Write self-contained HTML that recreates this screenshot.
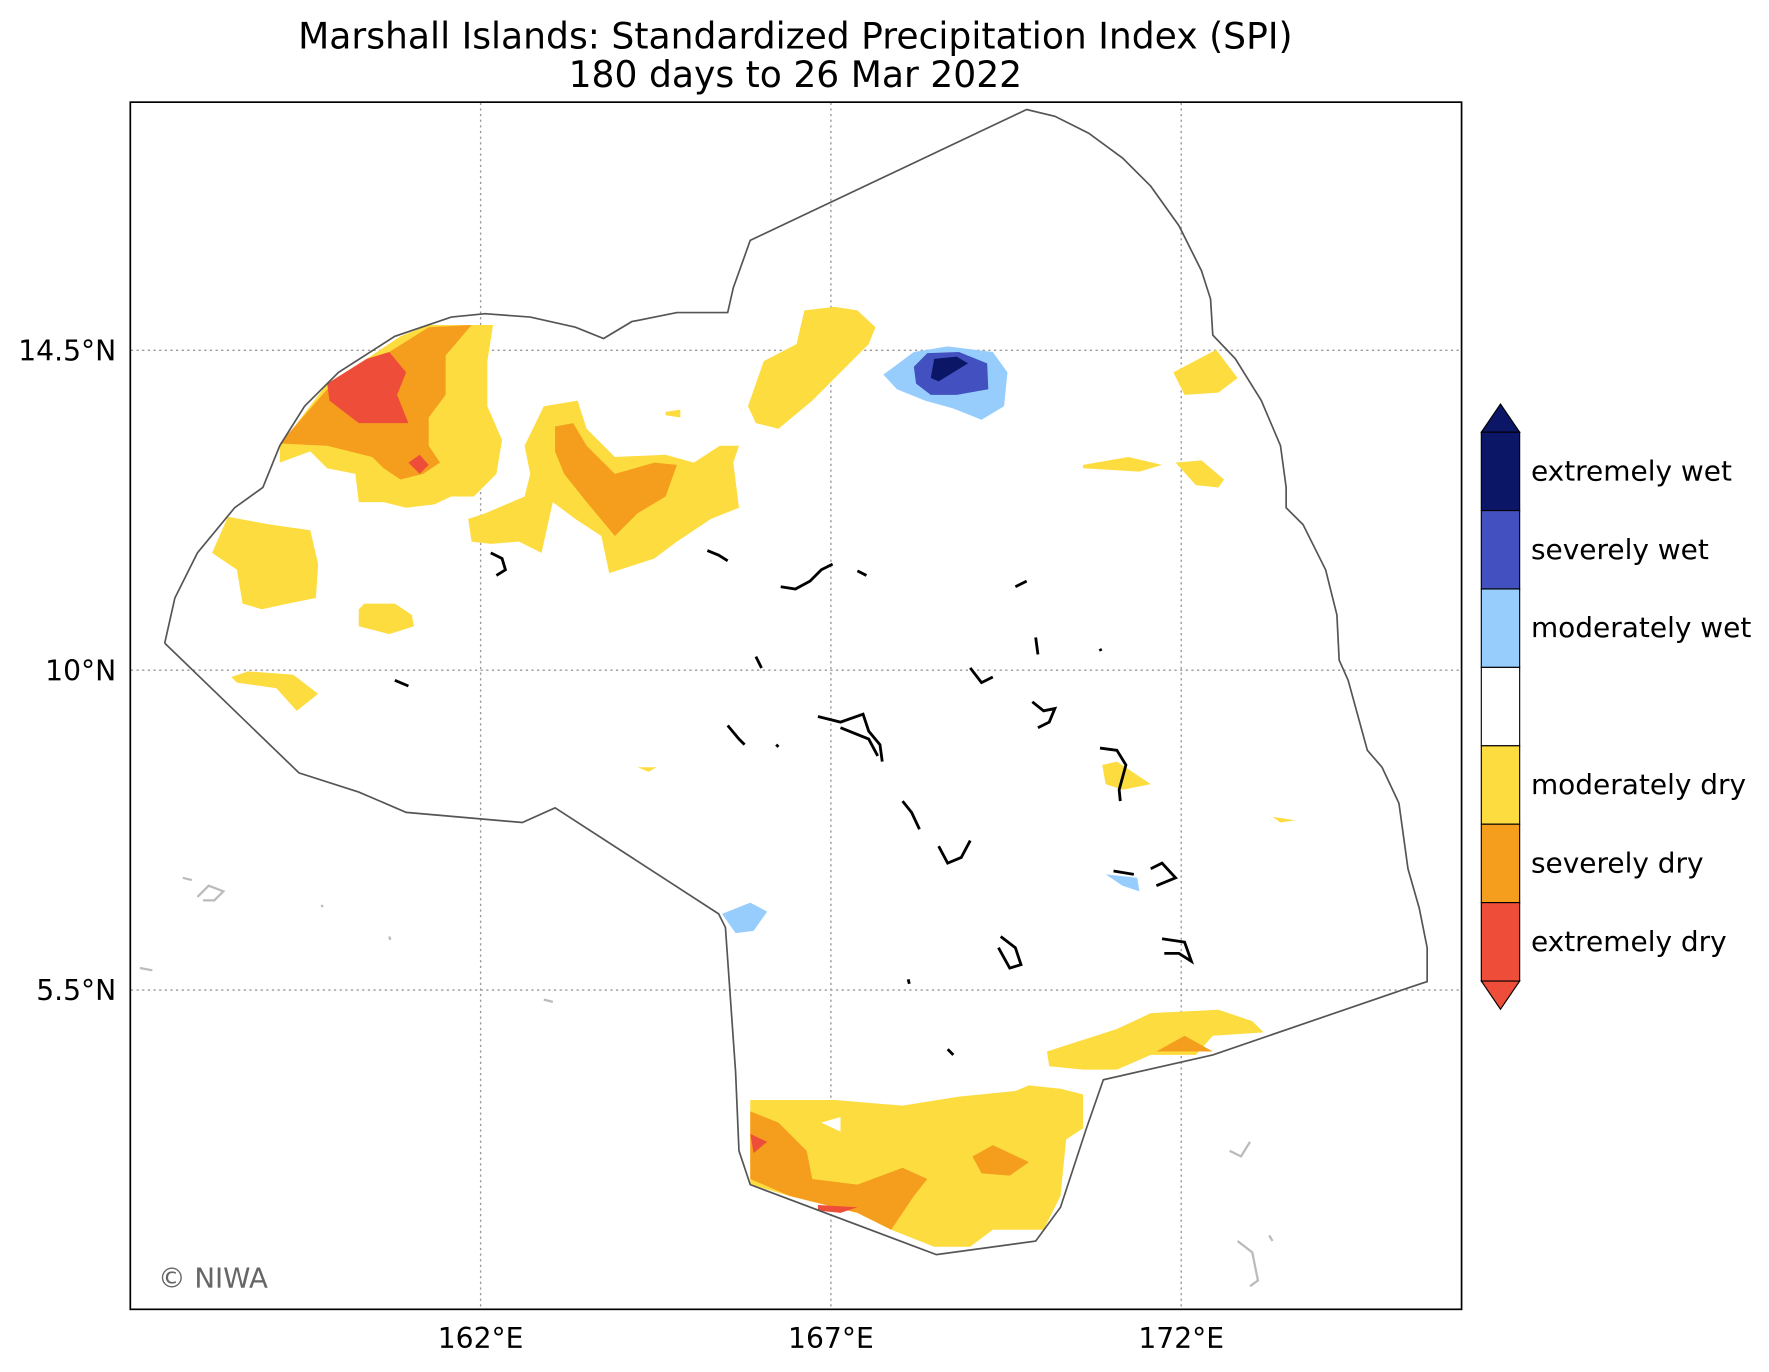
<!DOCTYPE html>
<html><head><meta charset="utf-8"><style>
html,body{margin:0;padding:0;background:#fff}
svg{display:block;font-family:"DejaVu Sans","Liberation Sans",sans-serif}
</style></head><body>
<svg id="c" width="1769" height="1372" viewBox="0 0 1568 1216" xmlns="http://www.w3.org/2000/svg">
<rect width="1568" height="1216" fill="#fff"/>
<text x="705" y="43" font-size="32" text-anchor="middle">Marshall Islands: Standardized Precipitation Index (SPI)</text>
<text x="705" y="77" font-size="32" text-anchor="middle">180 days to 26 Mar 2022</text>
<g id="grid"></g>
<g id="shapes"></g>
<g id="islands"></g>
<rect x="115.5" y="90.5" width="1180" height="1070" fill="none" stroke="#000" stroke-width="1.5"/>
<g id="ticks"></g>
<text x="140" y="1141" font-size="24.5" fill="#666">© NIWA</text>
<g id="cbar"></g>
</svg>
<script>
const lonTicks=[162,167,172];
const lonLabels=["162°E","167°E","172°E"];
const latTicks=[14.5,10,5.5];
const latLabels=["14.5°N","10°N","5.5°N"];
const cbarLabels=["extremely wet","severely wet","moderately wet","","moderately dry","severely dry","extremely dry"];
const cbarColors=["#0b1666","#4251bf","#97cdfc","#ffffff","#fddc3f","#f59e1e","#ee4e39"];
function xOf(lon){return 426+(lon-162)*62.1;}
function yOf(lat){return 594-(lat-10)*63.0;}
const NS="http://www.w3.org/2000/svg";
function mk(tag,attrs,parent){const e=document.createElementNS(NS,tag);for(const k in attrs)e.setAttribute(k,attrs[k]);parent.appendChild(e);return e;}
const grid=document.getElementById('grid'),ticks=document.getElementById('ticks');
lonTicks.forEach((l,i)=>{const x=xOf(l);
 const g=mk('line',{x1:x,x2:x,y1:91,y2:1160,stroke:"#999","stroke-width":1.2,"stroke-dasharray":"2,3"},grid);
 
 const t=mk('text',{x:x,y:1195,"font-size":25,"text-anchor":"middle"},ticks);t.textContent=lonLabels[i];
 });
latTicks.forEach((l,i)=>{const y=yOf(l);
 const g=mk('line',{x1:116,x2:1295,y1:y,y2:y,stroke:"#999","stroke-width":1.2,"stroke-dasharray":"2,3"},grid);
 
 const t=mk('text',{x:103,y:y+9,"font-size":25,"text-anchor":"end"},ticks);t.textContent=latLabels[i];
 });
const Y="#fddc3f",O="#f59e1e",R="#ee4e39",LB="#97cdfc",MB="#4251bf",DB="#0b1666";
const polys=[
[Y,"248,395 290,340 325,318 355,298 380,288 437,288 432,320 432,360 445,390 440,420 420,440 400,440 385,447 360,450 340,445 318,445 315,420 290,415 275,400 248,410"],
[O,"248,393 290,345 345,312 380,290 418,288 395,315 395,350 380,370 380,395 390,410 375,420 355,425 340,415 330,405 290,395"],
[R,"290,340 325,318 345,312 360,330 352,350 362,375 318,375 292,355"],
[R,"362,410 372,403 380,412 372,420"],
[Y,"465,395 482,360 512,355 520,380 545,405 590,403 615,410 638,395 655,395 650,410 655,450 630,460 600,480 580,495 540,508 533,475 510,460 490,445 480,490 460,480 435,482 418,480 415,460 430,455 465,440 470,420"],
[O,"492,378 508,375 520,395 545,420 580,410 600,412 590,440 565,455 545,475 520,445 500,420 492,400"],
[Y,"663,360 677,320 706,305 713,275 740,272 760,275 776,290 770,305 750,325 720,355 690,380 670,375"],
[Y,"188,490 202,458 240,465 275,470 282,500 280,530 255,535 232,540 215,535 210,505"],
[Y,"318,540 323,535 350,535 365,545 367,555 345,562 318,555"],
[Y,"205,600 220,595 260,598 282,615 263,630 245,610 210,605"],
[Y,"1040,330 1078,310 1097,335 1080,348 1050,350"],
[Y,"960,412 1000,405 1030,412 1010,418 960,415"],
[Y,"1042,410 1065,408 1085,425 1080,432 1060,430"],
[Y,"977,678 990,675 1020,695 995,700 980,695"],
[Y,"1128,724 1148,727 1135,729"],
[Y,"565,680 582,680 575,684"],
[Y,"590,365 603,363 603,370 590,368"],
[LB,"783,332 810,312 840,307 880,312 893,330 890,360 870,372 845,362 820,355 795,345"],
[MB,"810,325 822,313 850,312 875,322 876,345 848,350 825,350 812,340"],
[DB,"825,335 828,318 848,316 858,322 845,330 832,338"],
[LB,"640,810 665,800 680,808 668,825 652,827"],
[LB,"980,775 1008,778 1010,790 995,785"],
[Y,"665,975 740,975 800,980 850,972 900,967 912,962 940,965 960,970 960,1000 945,1010 940,1060 925,1090 880,1090 860,1105 828,1105 790,1090 760,1075 700,1060 665,1050"],
[O,"665,985 690,995 715,1020 720,1045 760,1050 800,1035 822,1045 810,1060 790,1090 760,1075 700,1060 665,1045"],
[O,"862,1025 880,1015 912,1030 895,1042 870,1040"],
[R,"665,1005 680,1012 668,1022"],
[R,"725,1068 760,1070 745,1075 725,1073"],
["#ffffff","728,995 745,990 745,1003"],
[Y,"928,932 990,912 1020,898 1080,895 1110,905 1120,915 1075,918 1060,935 1020,935 990,948 960,948 930,945"],
[O,"1025,932 1050,918 1075,932"]
];
const sh=document.getElementById('shapes');
polys.forEach(p=>{const e=mk('polygon',{points:p[1],fill:p[0]},sh);
 });
const b=mk('polyline',{points:"146,570 155,530 175,490 208,450 233,432 248,395 270,360 300,330 350,298 400,281 430,278 470,281 510,290 535,300 560,285 600,277 645,277 650,255 665,213 910,97 935,103 965,118 995,140 1020,165 1045,200 1065,240 1073,265 1075,297 1095,318 1118,355 1135,395 1140,432 1140,450 1155,465 1175,505 1185,545 1187,585 1195,603 1212,665 1225,680 1240,712 1248,770 1258,805 1265,840 1265,870 1250,875 1075,935 978,957 963,1000 940,1070 918,1100 830,1112 665,1050 655,1020 652,950 643,822 637,810 560,760 492,716 463,729 360,720 318,702 265,685 146,570",fill:"none",stroke:"#555","stroke-width":1.5},sh);

const isl=document.getElementById('islands');
const blk=["435,490 445,495 448,505 440,510","627,488 637,492 645,497","692,520 705,522 718,515 728,505 738,500","760,506 768,510","900,520 910,515","918,565 920,580","975,575 976,577","350,603 362,608","670,582 675,592","860,592 870,605 880,600","915,622 925,630 935,628 930,640 920,645","645,643 655,655 660,660","688,660 690,662","725,635 745,640 765,633 770,648 780,660 782,675","745,645 770,655 778,670","975,663 990,665 998,678 992,700 993,710","800,710 808,720 815,735","832,750 840,765 852,760 860,745","987,772 1005,775","1020,770 1030,765 1042,778 1025,785","887,830 900,840 905,855 895,858 885,840","1030,832 1050,835 1056,852 1045,845 1032,845","805,868 806,872","840,930 845,935"];
blk.forEach(p=>{const e=mk('polyline',{points:p,fill:"none",stroke:"#000","stroke-width":2.5},isl);
 });
const gr=["162,778 170,780","175,795 185,785 198,790 190,798 180,798","285,802 286,804","345,830 346,833","124,858 135,860","482,886 490,888","1090,1020 1100,1025 1108,1012","1097,1100 1110,1110 1115,1135 1108,1140","1125,1095 1128,1100"];
gr.forEach(p=>{const e=mk('polyline',{points:p,fill:"none",stroke:"#bbb","stroke-width":2},isl);
 });
const cb=document.getElementById('cbar');
const cx=1313,cw=34,top0=383,bh=69.5;
const t1=mk('polygon',{points:`${cx},${top0} ${cx+cw/2},358 ${cx+cw},${top0}`,fill:cbarColors[0],stroke:"#000","stroke-width":1},cb);

cbarColors.forEach((c,i)=>{const y=top0+i*bh;
 const r=mk('rect',{x:cx,y:y,width:cw,height:bh,fill:c,stroke:"#000","stroke-width":1},cb);
 
 if(cbarLabels[i]){const t=mk('text',{x:1357,y:y+bh/2+8,"font-size":24.8},cb);t.textContent=cbarLabels[i];
 }});
const yb=top0+7*bh;
const t2=mk('polygon',{points:`${cx},${yb} ${cx+cw/2},${yb+25} ${cx+cw},${yb}`,fill:cbarColors[6],stroke:"#000","stroke-width":1},cb);

</script>
</body></html>
